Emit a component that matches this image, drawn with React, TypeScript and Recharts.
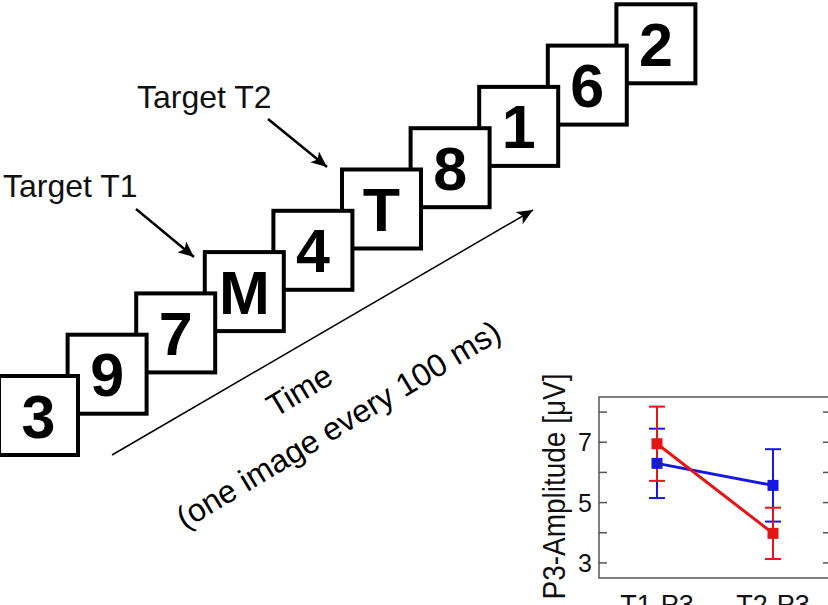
import React from "react"
import { LineChart, Line, XAxis, YAxis, ErrorBar, ReferenceArea } from "recharts"

// RSVP stream, first to last
const stimuli = ["3", "9", "7", "M", "4", "T", "8", "1", "6", "2"]

// P3 amplitudes per target
const conditions = ["T1-P3", "T2-P3"]
const conditionPos = [1, 2]
const blueAmp = [6.3, 5.57]
const blueErr = [1.15, 1.2]
const redAmp = [6.95, 3.98]
const redErr = [1.23, 0.85]
const yTicks = [3, 4, 5, 6, 7, 8]
const yLabeled = [3, 5, 7]

const BLUE = "#1717e3"
const RED = "#e51515"
const FRAME = "#555"
const FONT = '"Liberation Sans", Arial, sans-serif'

const data = conditions.map((name, i) => ({
  name,
  x: conditionPos[i],
  blue: blueAmp[i],
  blueErr: blueErr[i],
  red: redAmp[i],
  redErr: redErr[i],
}))

function LeftTick({ x, y, payload }: any) {
  return (
    <g>
      <line x1={x + 7} x2={x + 15} y1={y} y2={y} stroke={FRAME} strokeWidth={1.5} />
      {yLabeled.includes(payload.value) && (
        <text x={x} y={y + 9} textAnchor="end" fontSize={25} fill="#111" fontFamily={FONT}>
          {payload.value}
        </text>
      )}
    </g>
  )
}

function RightTick({ x, y }: any) {
  return <line x1={x - 8} x2={x} y1={y} y2={y} stroke={FRAME} strokeWidth={1.5} />
}

const square = (color: string) => (p: any) =>
  <rect key={`${color}-${p.index}`} x={p.cx - 5.5} y={p.cy - 5.5} width={11} height={11} fill={color} />

function Diagram() {
  const size = 79
  const boxes = stimuli.map((s, i) => ({ s, x: -1 + 68.6 * i, y: 376 - 41.3 * i }))
  return (
    <svg width={828} height={605} style={{ position: "absolute", left: 0, top: 0 }}>
      <defs>
        <marker id="head" markerUnits="userSpaceOnUse" markerWidth={18} markerHeight={14} refX={16} refY={7} orient="auto">
          <path d="M0,0 L16,7 L0,14 L4,7 z" fill="#000" />
        </marker>
      </defs>
      {/* later images sit behind earlier ones */}
      {boxes.slice().reverse().map((b) => (
        <g key={b.s}>
          <rect x={b.x} y={b.y} width={size} height={size} fill="#fff" stroke="#000" strokeWidth={4} />
          <text x={b.x + size / 2} y={b.y + size / 2 + 22} textAnchor="middle" fontSize={61} fontWeight="bold" fontFamily={FONT}>
            {b.s}
          </text>
        </g>
      ))}
      <text x={137} y={108} fontSize={32} fontFamily={FONT} fill="#111">Target T2</text>
      <text x={3} y={197} fontSize={32} fontFamily={FONT} fill="#111">Target T1</text>
      <line x1={268} y1={119} x2={327} y2={167} stroke="#000" strokeWidth={2.5} markerEnd="url(#head)" />
      <line x1={136} y1={209} x2={194} y2={257} stroke="#000" strokeWidth={2.5} markerEnd="url(#head)" />
      <line x1={112} y1={455} x2={533} y2={210} stroke="#000" strokeWidth={1.5} markerEnd="url(#head)" />
      <text x={305} y={400} textAnchor="middle" fontSize={32} fontFamily={FONT} transform="rotate(-31 305 400)">Time</text>
      <text x={344} y={434} textAnchor="middle" fontSize={32} fontFamily={FONT} transform="rotate(-31 344 434)">
        (one image every 100 ms)
      </text>
    </svg>
  )
}

export default function App() {
  return (
    <div style={{ position: "fixed", left: 0, top: 0, width: 828, height: 605, overflow: "hidden", background: "#fff", fontFamily: FONT }}>
      <Diagram />
      <div style={{ position: "absolute", left: 520, top: 360 }}>
        <LineChart width={331} height={258} data={data} margin={{ top: 37, right: 0, bottom: 0, left: 0 }}>
          <XAxis
            dataKey="x"
            type="number"
            domain={[0.5, 2.5]}
            ticks={conditionPos}
            tickFormatter={(v) => conditions[conditionPos.indexOf(v)]}
            axisLine={false}
            tickLine={false}
            tickSize={0}
            tickMargin={17}
            height={40}
            tick={{ fontSize: 27, fill: "#111", fontFamily: FONT }}
            allowDataOverflow
          />
          <YAxis
            yAxisId="left"
            width={79}
            domain={[2.5, 8.5]}
            ticks={yTicks}
            interval={0}
            axisLine={false}
            tickLine={false}
            tickSize={0}
            tickMargin={7}
            tick={<LeftTick />}
            allowDataOverflow
            label={{
              content: ({ viewBox }: any) => {
                const cx = viewBox.x + 45
                const cy = viewBox.y + viewBox.height / 2 - 1
                return (
                  <text
                    x={cx}
                    y={cy}
                    textAnchor="middle"
                    fontSize={31}
                    fill="#111"
                    fontFamily={FONT}
                    textLength={226}
                    lengthAdjust="spacingAndGlyphs"
                    transform={`rotate(-90 ${cx} ${cy})`}
                  >
                    P3-Amplitude [μV]
                  </text>
                )
              },
            }}
          />
          <YAxis
            yAxisId="right"
            orientation="right"
            width={20}
            domain={[2.5, 8.5]}
            ticks={yTicks}
            interval={0}
            axisLine={false}
            tickLine={false}
            tickSize={0}
            tickMargin={0}
            tick={<RightTick />}
            allowDataOverflow
          />
          <ReferenceArea yAxisId="left" x1={0.5} x2={2.5} y1={2.5} y2={8.5} fill="none" stroke={FRAME} strokeWidth={1.5} ifOverflow="visible" />
          <Line yAxisId="left" dataKey="blue" stroke={BLUE} strokeWidth={3} dot={square(BLUE)} activeDot={false} isAnimationActive={false}>
            <ErrorBar dataKey="blueErr" width={8} stroke={BLUE} strokeWidth={2} direction="y" isAnimationActive={false} />
          </Line>
          <Line yAxisId="left" dataKey="red" stroke={RED} strokeWidth={3} dot={square(RED)} activeDot={false} isAnimationActive={false}>
            <ErrorBar dataKey="redErr" width={8} stroke={RED} strokeWidth={2} direction="y" isAnimationActive={false} />
          </Line>
        </LineChart>
      </div>
    </div>
  )
}
